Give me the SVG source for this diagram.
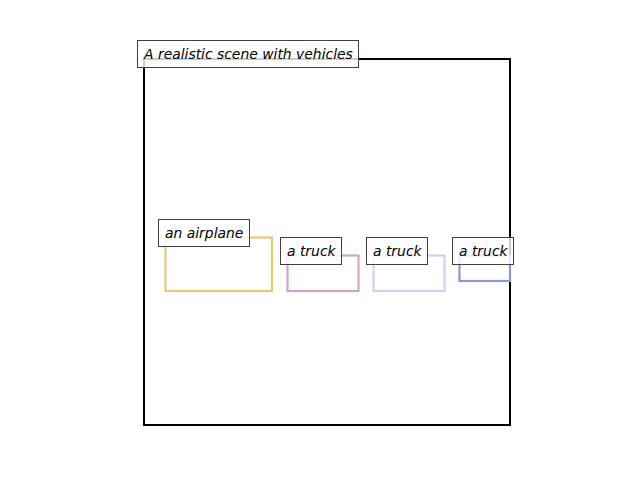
<svg xmlns="http://www.w3.org/2000/svg" width="640" height="480" viewBox="0 0 640 480">
<style>
.lbl rect{fill:#ffffff;fill-opacity:0.8;stroke:#3f3f3f;stroke-width:1}
.lbl text{font-family:"DejaVu Sans",sans-serif;font-style:oblique;font-size:13.9px;fill:#000}
.box{fill:none;stroke-width:2.2}
</style>
<rect width="640" height="480" fill="#fff"/>
<g id="scene"><rect x="144" y="59" width="366" height="366" fill="none" stroke="#000" stroke-width="2"/></g>
<g id="airplane"><rect class="box" x="165.5" y="237.5" width="106.5" height="53.5" stroke="#e8c97a"/></g>
<g id="truck1"><rect class="box" x="287.5" y="255.5" width="71" height="35.5" stroke="#cfa5cc"/></g>
<g id="truck2"><rect class="box" x="373.5" y="255.5" width="71" height="35.5" stroke="#d3cdf7"/></g>
<g id="truck3"><rect class="box" x="459.5" y="255.5" width="50.5" height="25.5" stroke="#8b95d1"/></g>
<g id="labels">
<g class="lbl" id="title"><rect x="137.5" y="40.5" width="221" height="27"/><text x="144" y="59">A realistic scene with vehicles</text></g>
<g class="lbl" id="lbl-airplane"><rect x="158.5" y="219.5" width="91" height="27"/><text x="165" y="238">an airplane</text></g>
<g class="lbl" id="lbl-truck1"><rect x="280.5" y="237.5" width="61" height="27"/><text x="287" y="256">a truck</text></g>
<g class="lbl" id="lbl-truck2"><rect x="366.5" y="237.5" width="61" height="27"/><text x="373" y="256">a truck</text></g>
<g class="lbl" id="lbl-truck3"><rect x="452.5" y="237.5" width="61" height="27"/><text x="459" y="256">a truck</text></g>
</g>
</svg>
